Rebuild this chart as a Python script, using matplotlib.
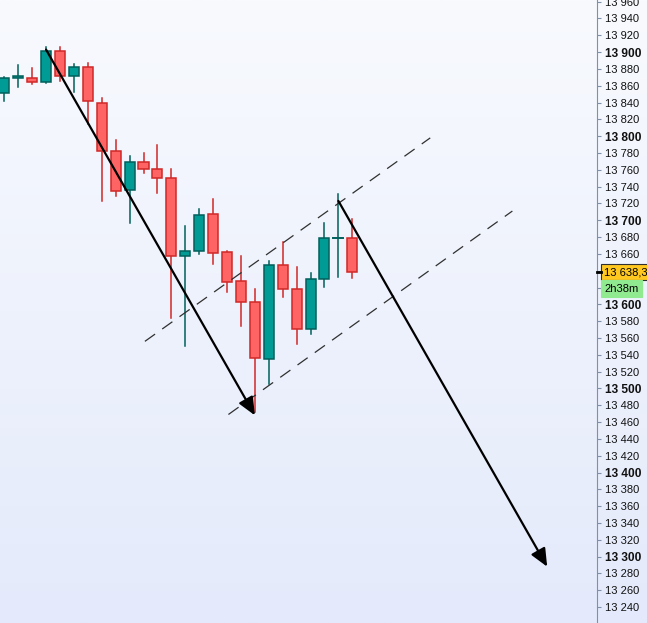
import numpy as np
import matplotlib
matplotlib.use("Agg")
from matplotlib import pyplot as plt
from matplotlib.patches import Rectangle

# Candle data (index = candle number)
opens  = [13851, 13869, 13869, 13864, 13901, 13872, 13882, 13840, 13782, 13736,
          13769, 13761, 13750, 13657, 13663, 13707, 13662, 13628, 13603, 13535,
          13647, 13618, 13571, 13630, 13679, 13679]
highs  = [13870, 13885, 13881, 13906, 13906, 13886, 13887, 13845, 13795, 13777,
          13780, 13790, 13761, 13693, 13714, 13725, 13664, 13658, 13618, 13652,
          13674, 13644, 13637, 13697, 13731, 13701]
lows   = [13842, 13859, 13862, 13863, 13866, 13852, 13815, 13723, 13729, 13697,
          13756, 13733, 13584, 13550, 13660, 13648, 13615, 13574, 13472, 13505,
          13609, 13553, 13565, 13621, 13632, 13631]
closes = [13869, 13872, 13864, 13901, 13872, 13882, 13842, 13782, 13735, 13769,
          13761, 13750, 13657, 13663, 13706, 13661, 13626, 13603, 13536, 13647,
          13618, 13571, 13630, 13679, 13679, 13638.3]

last_price = 13638.3
timer_text = "2h38m"

# Drawn trend lines (candle index, price)
arrow1 = [(3.0, 13903), (18.0, 13468)]
arrow2 = [(24.0, 13723), (39.0, 13288)]
channel_up = [(10.1, 13556), (30.6, 13798)]
channel_low = [(16.1, 13469), (36.5, 13711)]

ticks = list(range(13240, 13961, 20))
hidden = [13620, 13640]   # covered by the price / timer boxes

fig = plt.figure(figsize=(6.47, 6.23), dpi=100)

# background gradient over the whole picture
bg = fig.add_axes([0, 0, 1, 1])
grad = np.linspace(0, 1, 256).reshape(-1, 1)
top_c = np.array([248, 250, 254]) / 255
bot_c = np.array([228, 234, 251]) / 255
img = top_c + (bot_c - top_c) * grad[:, :, None]
bg.imshow(img, aspect="auto", extent=[0, 1, 0, 1])
bg.set_axis_off()

ax = fig.add_axes([0, 0, 597 / 647, 1])
ax.patch.set_alpha(0)

up_fill, up_edge = "#009b94", "#00605c"
dn_fill, dn_edge = "#ff6464", "#d02828"
w = 0.72
for i in range(len(opens)):
    o, h, l, c = opens[i], highs[i], lows[i], closes[i]
    up = c >= o
    fill = up_fill if up else dn_fill
    edge = up_edge if up else dn_edge
    ax.plot([i, i], [l, h], color=edge, lw=1.1, zorder=2)
    lo, hi = min(o, c), max(o, c)
    if hi - lo < 0.5:
        ax.plot([i - w / 2, i + w / 2], [o, o], color=edge, lw=1.4, zorder=3)
    else:
        ax.add_patch(Rectangle((i - w / 2, lo), w, hi - lo, facecolor=fill,
                               edgecolor=edge, lw=1.1, zorder=3))

# dashed channel
for (x0, y0), (x1, y1) in [channel_up, channel_low]:
    ax.plot([x0, x1], [y0, y1], color="#303030", lw=0.9,
            dashes=(10, 7), zorder=4)

# arrows
for (x0, y0), (x1, y1) in [arrow1, arrow2]:
    ax.annotate("", xy=(x1, y1), xytext=(x0, y0),
                arrowprops=dict(arrowstyle="-|>,head_length=0.9,head_width=0.4",
                                color="black", lw=1.6, mutation_scale=12,
                                shrinkA=0, shrinkB=0),
                zorder=5)

ax.set_xlim(-0.31, 42.58)
ax.set_ylim(13221, 13962)

for s in ["top", "left", "bottom"]:
    ax.spines[s].set_visible(False)
ax.spines["right"].set_color("#8090a8")
ax.set_xticks([])
ax.yaxis.tick_right()
ax.set_yticks(ticks)
ax.set_yticklabels(["" if t in hidden else "13 %03d" % (t - 13000) for t in ticks],
                   fontfamily="Liberation Sans", fontsize=8)
for lab, t in zip(ax.get_yticklabels(), ticks):
    if t % 100 == 0:
        lab.set_fontweight("bold")
        lab.set_fontsize(8.6)
ax.tick_params(axis="y", length=3, width=0.8, color="#8090a8", pad=3,
               labelcolor="#111111")

# current price marker and boxes
ax.plot([42.58, 42.9], [last_price, last_price], color="black", lw=2,
        clip_on=False, zorder=6)
ax.text(1.0 + 7 / 597, last_price, "13 638,3", transform=ax.get_yaxis_transform(),
        va="center", ha="left", fontfamily="Liberation Sans", fontsize=8,
        bbox=dict(boxstyle="square,pad=0.25", facecolor="#ffc820",
                  edgecolor="#303030", lw=0.8))
ax.text(1.0 + 7 / 597, last_price - 19.5, timer_text,
        transform=ax.get_yaxis_transform(), va="center", ha="left",
        fontfamily="Liberation Sans", fontsize=8,
        bbox=dict(boxstyle="square,pad=0.3", facecolor="#90ea90",
                  edgecolor="#90ea90", lw=0.8))

fig.savefig("out.png", dpi=100)
